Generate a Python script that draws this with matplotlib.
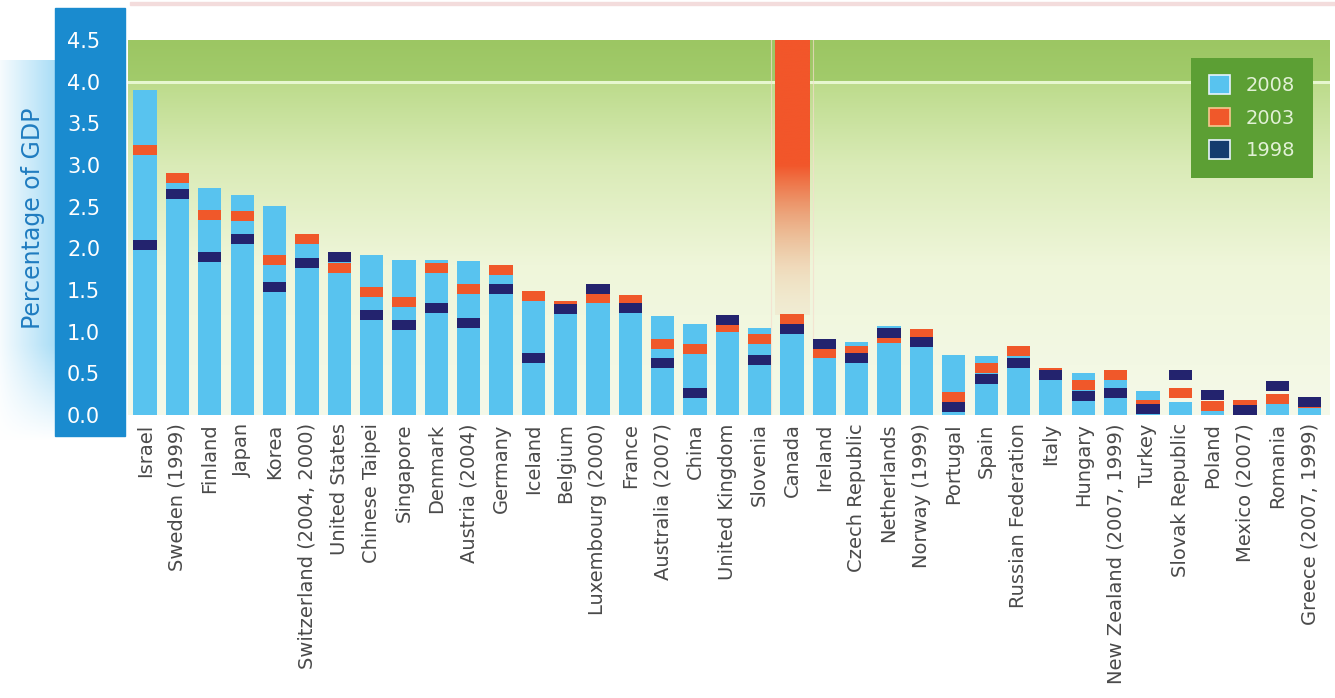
import numpy as np
import matplotlib
matplotlib.use("Agg")
import matplotlib.pyplot as plt
from matplotlib.patches import Patch, Rectangle
from matplotlib.colors import to_rgb

countries = ["Israel", "Sweden (1999)", "Finland", "Japan", "Korea", "Switzerland (2004, 2000)",
             "United States", "Chinese Taipei", "Singapore", "Denmark", "Austria (2004)", "Germany",
             "Iceland", "Belgium", "Luxembourg (2000)", "France", "Australia (2007)", "China",
             "United Kingdom", "Slovenia", "Canada", "Ireland", "Czech Republic", "Netherlands",
             "Norway (1999)", "Portugal", "Spain", "Russian Federation", "Italy", "Hungary",
             "New Zealand (2007, 1999)", "Turkey", "Slovak Republic", "Poland", "Mexico (2007)",
             "Romania", "Greece (2007, 1999)"]
v2008 = [3.90, 2.89, 2.72, 2.64, 2.51, 2.15, 1.96, 1.92, 1.86, 1.86, 1.85, 1.80, 1.48, 1.36,
         1.57, 1.39, 1.19, 1.09, 1.20, 1.04, 1.20, 0.91, 0.88, 1.07, 1.02, 0.72, 0.71, 0.82,
         0.54, 0.51, 0.53, 0.29, 0.16, 0.16, 0.09, 0.18, 0.21]
v2003 = [3.18, 2.85, 2.40, 2.39, 1.86, 2.11, 1.77, 1.48, 1.36, 1.76, 1.51, 1.74, 1.43, 1.31,
         1.40, 1.38, 0.85, 0.79, 1.06, 0.91, 1.15, 0.74, 0.77, 0.92, 0.97, 0.22, 0.56, 0.77,
         0.50, 0.36, 0.48, 0.12, 0.27, 0.11, 0.12, 0.19, 0.15]
v1998 = [2.04, 2.65, 1.90, 2.11, 1.54, 1.83, 1.90, 1.20, 1.08, 1.29, 1.10, 1.51, 0.68, 1.27,
         1.51, 1.29, 0.62, 0.26, 1.14, 0.66, 1.03, 0.85, 0.69, 0.99, 0.88, 0.10, 0.43, 0.62,
         0.48, 0.23, 0.27, 0.07, 0.48, 0.24, 0.06, 0.35, 0.16]
highlight = "Canada"
yticks = [0.0, 0.5, 1.0, 1.5, 2.0, 2.5, 3.0, 3.5, 4.0, 4.5]

c2008 = "#58c3ef"
c2003 = "#f0582a"
c1998 = "#23236e"
font = "DejaVu Sans"

W, H = 1335, 698
fig = plt.figure(figsize=(W / 100, H / 100), dpi=100)
fig.patch.set_facecolor("white")

# left panel: light strip + dark blue axis panel
strip = fig.add_axes([0, 1 - 442 / H, 56 / W, 382 / H])
strip.set_zorder(-3)
gx = np.linspace(0, 1, 60)
gy = np.linspace(0, 1, 100)
GX, GY = np.meshgrid(gx, gy)
lo = np.array(to_rgb("#ffffff"))
hi = np.array(to_rgb("#a9ddf6"))
t = np.clip(GX * 0.9 + 0.1, 0, 1) * np.clip(GY * 4, 0, 1)
img = lo[None, None, :] * (1 - t[..., None]) + hi[None, None, :] * t[..., None]
strip.imshow(img, origin="lower", aspect="auto", extent=(0, 1, 0, 1))
strip.axis("off")
fig.patches.append(Rectangle((55 / W, 1 - 436 / H), 70 / W, 428 / H,
                             transform=fig.transFigure, color="#1a8bcf", zorder=-1))
fig.text(33 / W, 1 - 218 / H, "Percentage of GDP", rotation=90, color="#1f7cc0",
         fontsize=17, ha="center", va="center", fontfamily=font)
# thin frame line at top
fig.patches.append(Rectangle((130 / W, 1 - 5 / H), 1205 / W, 3 / H,
                             transform=fig.transFigure, color="#f3dcdc", zorder=-1))

ax = fig.add_axes([128 / W, 1 - 415 / H, 1202 / W, 375 / H])
x = np.arange(len(countries))
xmin, xmax = -0.53, 36.63
ymin, ymax = 0, 4.5

# background gradient
ys = np.linspace(ymin, ymax, 400)
stops = [(0.0, "#f5f9e9"), (1.8, "#eff6da"), (3.0, "#daebb7"), (4.0, "#bcdb8b"),
         (4.001, "#a2cb6b"), (4.5, "#9cc663")]
sv = [s[0] for s in stops]
cols = np.array([to_rgb(s[1]) for s in stops])
bg = np.stack([np.interp(ys, sv, cols[:, k]) for k in range(3)], axis=-1)
bg = np.repeat(bg[:, None, :], 2, axis=1)
ax.imshow(bg, origin="lower", aspect="auto", extent=(xmin, xmax, ymin, ymax), zorder=0)
ax.axhline(4.0, color="#e6f7cf", lw=2.2, zorder=1)

# highlight column for Canada
hi_i = countries.index(highlight)
hy = np.linspace(v2008[hi_i], ymax, 300)
f = np.clip((hy - v2008[hi_i]) / (3.0 - v2008[hi_i]), 0, 1)
alpha = 0.12 + 0.88 * f ** 1.6
base = np.array(to_rgb("#f2562a"))
pale = np.array(to_rgb("#f4a27c"))
hl = np.zeros((300, 2, 4))
hl[..., :3] = (pale[None, :] * (1 - f[:, None]) + base[None, :] * f[:, None])[:, None, :]
hl[..., 3] = alpha[:, None]
ax.imshow(hl, origin="lower", aspect="auto", zorder=1,
          extent=(hi_i - 0.54, hi_i + 0.54, v2008[hi_i], ymax))
for dx in (-0.66, 0.66):
    ax.axvline(hi_i + dx, color="#f6dccc", lw=0.8, alpha=0.7, zorder=1)

bw = 0.72
mh = 0.12
ax.bar(x, v2008, width=bw, color=c2008, zorder=2)
ax.bar(x, [mh] * len(x), bottom=np.array(v2003) - mh / 2, width=bw, color=c2003, zorder=3)
ax.bar(x, [mh] * len(x), bottom=np.array(v1998) - mh / 2, width=bw, color=c1998, zorder=4)

ax.set_xlim(xmin, xmax)
ax.set_ylim(ymin, ymax)
ax.set_yticks(yticks)
ax.set_yticklabels([f"{v:.1f}" for v in yticks], fontsize=15, color="white",
                   fontfamily=font)
ax.tick_params(axis="y", length=0, pad=20)
ax.set_xticks(x)
ax.set_xticklabels(countries, rotation=90, fontsize=14, color="#4a4a4a",
                   fontfamily=font)
ax.tick_params(axis="x", length=0, pad=6)
for s in ax.spines.values():
    s.set_visible(False)

handles = [Patch(facecolor=c2008, edgecolor="#e8f4ff", lw=1.2, label="2008"),
           Patch(facecolor=c2003, edgecolor="#f6c890", lw=1.2, label="2003"),
           Patch(facecolor="#143c6e", edgecolor="#e8f4ff", lw=1.2, label="1998")]
leg = ax.legend(handles=handles, loc="upper right", frameon=True,
                facecolor="#5c9f34", edgecolor="none", framealpha=1, fancybox=False,
                handlelength=1.1, handleheight=1.1, labelspacing=0.65, handletextpad=0.8,
                borderpad=0.9, borderaxespad=0.9, prop={"family": font, "size": 14})
for txt in leg.get_texts():
    txt.set_color("#e2f1d6")
leg.set_zorder(6)

fig.savefig("out.png", dpi=100)
